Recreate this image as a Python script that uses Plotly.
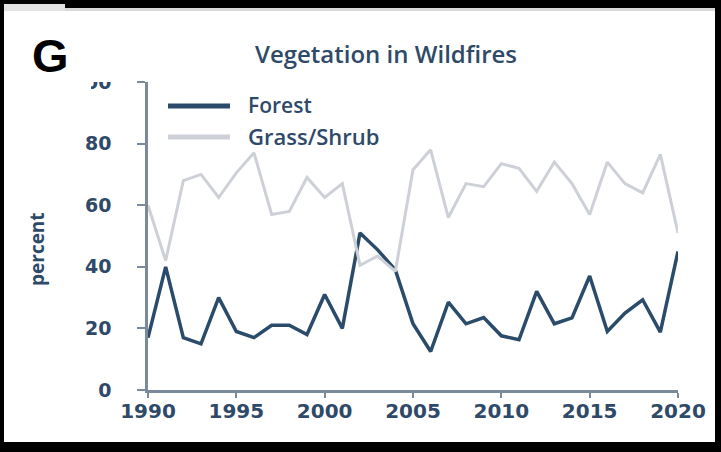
import plotly.graph_objects as go

years = list(range(1990, 2021))
forest = [17, 40, 17, 15, 30, 19, 17, 21, 21, 18, 31, 20, 51, 45.5, 39, 21.5, 12.5,
          28.5, 21.5, 23.5, 17.6, 16.3, 32, 21.5, 23.4, 37, 19, 25, 29.3, 18.8, 45]
grass = [60, 42, 68, 70, 62.5, 70.5, 77, 57, 58, 69, 62.5, 67, 40.5, 43.5, 38.5, 71.5,
         78, 56, 67, 66, 73.5, 72, 64.5, 74, 67, 57, 74, 67, 64, 76.5, 51]
x_ticks = [1990, 1995, 2000, 2005, 2010, 2015, 2020]
y_ticks = [0, 20, 40, 60, 80, 100]
y_ticktext = ["0", "20", "40", "60", "80", "100"]

FOREST_C = "#2b4b6b"
GRASS_C = "#cdd1d7"
TEXT_C = "#2f4a68"
AXIS_C = "#7b8a9b"

W, H = 721, 452
L, R, T, B = 148, 678, 82, 390


def px(x):
    return (x - L) / (R - L)


def py(y):
    return (B - y) / (B - T)


fig = go.Figure()
fig.add_trace(go.Scatter(x=years, y=forest, mode="lines", name="Forest",
                         line=dict(color=FOREST_C, width=3.5), showlegend=False))
fig.add_trace(go.Scatter(x=years, y=grass, mode="lines", name="Grass/Shrub",
                         line=dict(color=GRASS_C, width=3), showlegend=False))

xtickfont = dict(family="DejaVu Sans", size=20, color=TEXT_C, weight="bold")
ytickfont = dict(family="DejaVu Sans", size=19, color=TEXT_C, weight="bold")

fig.update_layout(
    width=W, height=H,
    margin=dict(l=L, r=W - R, t=T, b=H - B),
    paper_bgcolor="white", plot_bgcolor="white",
    title=dict(text="Vegetation in Wildfires", x=386 / W, y=1 - 55 / H,
               xanchor="center", yanchor="middle", xref="container", yref="container",
               font=dict(family="Open Sans", size=24, color=TEXT_C, weight=600)),
    xaxis=dict(range=[1990, 2020], tickvals=x_ticks, showgrid=False, zeroline=False,
               showline=True, linecolor=AXIS_C, linewidth=2.5, ticks="outside",
               ticklen=5, tickwidth=2, tickcolor=AXIS_C, tickfont=xtickfont,
               ticklabelstandoff=-4),
    yaxis=dict(range=[0, 100], tickvals=y_ticks, ticktext=y_ticktext, showgrid=False,
               zeroline=False, showline=True, linecolor=AXIS_C, linewidth=2.5,
               ticks="outside", ticklen=8, tickwidth=2, tickcolor=AXIS_C,
               tickfont=ytickfont, ticklabelstandoff=22),
)

shapes = []
# hide the top part of the "100" label as in the reference
shapes.append(dict(type="rect", xref="paper", yref="paper", x0=px(70), x1=px(130),
                   y0=py(82), y1=py(60), fillcolor="white", line=dict(width=0), layer="above"))
shapes.append(dict(type="rect", xref="paper", yref="paper", x0=px(70), x1=px(91),
                   y0=py(98), y1=py(60), fillcolor="white", line=dict(width=0), layer="above"))
# legend swatches
shapes.append(dict(type="line", xref="paper", yref="paper", x0=px(168), x1=px(230),
                   y0=py(106), y1=py(106), line=dict(color=FOREST_C, width=5)))
shapes.append(dict(type="line", xref="paper", yref="paper", x0=px(168), x1=px(230),
                   y0=py(137), y1=py(137), line=dict(color=GRASS_C, width=5)))
# black frame edges
for x0, x1, y0, y1, c in [
    (0, 65, 0, 4, "black"),
    (0, 65, 4, 11, "#e2e2e2"),
    (65, W, 0, 8, "black"),
    (65, W, 8, 11, "#d9d9d9"),
    (0, 4, 0, H, "black"),
    (715, W, 0, H, "black"),
    (0, W, 442, H, "black"),
]:
    shapes.append(dict(type="rect", xref="paper", yref="paper", x0=px(x0), x1=px(x1),
                       y0=py(y1), y1=py(y0), fillcolor=c, line=dict(width=0), layer="above"))
fig.update_layout(shapes=shapes)

ann = [
    dict(text="G", x=px(50), y=py(55), xanchor="center", yanchor="middle",
         font=dict(family="Liberation Sans", size=47, color="black", weight="bold")),
    dict(text="percent", x=px(37), y=py(249), xanchor="center", yanchor="middle",
         textangle=-90, font=dict(family="Open Sans", size=19, color=TEXT_C, weight="bold")),
    dict(text="Forest", x=px(246), y=py(105), xanchor="left", yanchor="middle",
         font=dict(family="Open Sans", size=21, color=TEXT_C, weight=600)),
    dict(text="Grass/Shrub", x=px(246), y=py(136), xanchor="left", yanchor="middle",
         font=dict(family="Open Sans", size=22, color=TEXT_C, weight=600)),
]
for a in ann:
    a.update(xref="paper", yref="paper", showarrow=False)
fig.update_layout(annotations=ann)

fig.write_html("out.html", post_script="document.body.style.margin='0';",
               config={"displayModeBar": False})
